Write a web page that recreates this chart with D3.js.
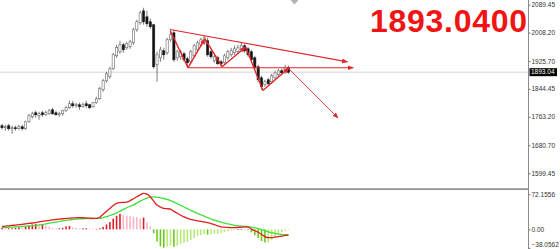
<!DOCTYPE html>
<html>
<head>
<meta charset="utf-8">
<title>Gold daily with MACD</title>
<script src="https://d3js.org/d3.v7.min.js"></script>
<style>
  body { margin: 0; background: #fff; }
  text { font-family: "Liberation Sans", Arial, sans-serif; }
</style>
</head>
<body>
<script>
var W = 560, H = 249

// candles (one per bar, oldest first)
var opens  = [1737.4,1731.6,1737.4,1728.7,1731.6,1728.7,1734.5,1728.7,1749.0,1763.5,
              1775.1,1766.4,1775.1,1769.3,1772.2,1783.8,1775.1,1769.3,1772.2,1780.9,
              1789.7,1801.3,1795.5,1798.4,1792.6,1801.3,1798.4,1792.6,1804.2,1815.8,
              1842.0,1868.1,1879.7,1903.0,1940.7,1952.4,1972.7,1964.0,1966.9,1978.5,
              2016.3,2036.6,2071.4,2054.0,2039.5,2030.8,1914.6,1934.9,1955.3,1949.4,
              1987.2,2007.5,1934.9,1937.8,1946.5,1932.0,1923.3,1940.7,1958.2,1972.7,
              1978.5,1984.3,1952.4,1926.2,1934.9,1923.3,1920.4,1934.9,1943.6,1949.4,
              1952.4,1958.2,1969.8,1961.1,1952.4,1934.9,1908.8,1876.8,1856.5,1871.0,
              1865.2,1876.8,1885.5,1897.1,1894.2,1905.9]
var highs  = [1743.2,1740.3,1743.2,1737.4,1737.4,1740.3,1740.3,1751.9,1772.2,1778.0,
              1781.0,1778.0,1781.0,1781.0,1786.8,1789.7,1781.0,1778.0,1783.8,1795.5,
              1810.0,1810.0,1804.2,1804.2,1804.2,1810.0,1801.3,1807.1,1821.6,1850.7,
              1873.9,1894.2,1908.8,1949.4,1972.7,1984.3,1978.5,1981.4,1987.2,2022.1,
              2045.3,2071.4,2080.2,2071.4,2048.2,2033.7,1952.4,1966.9,1964.0,1993.0,
              2019.2,2016.3,1958.2,1958.2,1952.4,1937.8,1958.2,1975.6,1984.3,1993.0,
              1998.8,1993.0,1958.2,1943.6,1940.7,1929.1,1946.5,1958.2,1964.0,1969.8,
              1972.7,1978.5,1975.6,1966.9,1958.2,1940.7,1914.6,1882.6,1871.0,1876.8,
              1888.4,1897.1,1902.9,1902.9,1914.6,1911.7]
var lows   = [1725.8,1722.9,1722.9,1714.1,1722.9,1725.8,1722.9,1725.8,1746.1,1757.7,
              1760.6,1754.8,1763.5,1766.4,1769.3,1769.3,1766.4,1763.5,1766.4,1778.0,
              1786.8,1789.7,1789.7,1783.8,1789.7,1789.7,1786.8,1789.7,1801.3,1813.0,
              1836.2,1862.3,1873.9,1900.0,1934.9,1946.5,1949.4,1958.2,1961.1,1972.7,
              2010.4,2030.8,2030.8,2025.0,2019.2,1903.0,1865.2,1923.3,1929.1,1943.6,
              1981.4,1923.3,1926.2,1929.1,1923.3,1905.9,1917.5,1934.9,1952.4,1966.9,
              1972.7,1937.8,1932.0,1920.4,1914.6,1908.8,1917.5,1929.1,1937.8,1943.6,
              1946.5,1952.4,1949.4,1937.8,1923.3,1900.0,1865.2,1842.0,1850.7,1853.6,
              1859.4,1871.0,1879.7,1885.5,1888.4,1888.4]
var closes = [1731.6,1734.5,1728.7,1731.6,1728.7,1734.5,1728.7,1749.0,1766.4,1772.2,
              1769.3,1772.2,1769.3,1775.1,1780.9,1772.2,1769.3,1772.2,1780.9,1789.7,
              1801.3,1795.5,1798.4,1792.6,1798.4,1795.5,1789.7,1804.2,1815.8,1844.9,
              1868.1,1888.4,1903.0,1943.6,1964.9,1972.7,1958.2,1975.6,1981.4,2016.3,
              2039.5,2065.6,2039.5,2033.7,2025.0,1908.8,1943.6,1958.2,1943.6,1987.2,
              2001.7,1929.1,1952.4,1952.4,1929.1,1920.4,1952.4,1969.8,1978.5,1987.2,
              1993.0,1943.6,1937.8,1937.8,1917.5,1917.5,1940.7,1952.4,1955.3,1961.1,
              1964.0,1969.8,1955.3,1943.6,1929.1,1905.9,1871.0,1850.7,1865.2,1859.4,
              1882.6,1891.3,1897.1,1891.3,1905.9,1893.04]

// MACD: DIF (red), DEA (green), histogram
var dif  = [5.8,6.5,7.2,8,8.8,9.6,10.4,11.3,12.2,13,
            14,15.2,16.3,17.4,18.6,19.5,20.2,21,21.8,22.5,
            23,23.4,23.7,24,23.8,23.4,23,22.6,22.7,25,
            31,37,43,49,53.5,55,55.5,56,59,63,
            67,71,74,72.5,67,58,50,46,43,42.5,
            41.5,37,33,29,25.5,23,20.5,19,17.5,16.4,
            15.3,14,11.8,9.6,7,5.2,4.5,4,3.4,3.4,
            4,4.5,5,4.5,0.5,-3,-6,-10,-15,-17.3,
            -17,-16,-15,-13.8,-12.5,-11.8]
var dea  = [3.3,3.7,4.1,4.6,5,5.4,5.8,6.3,6.8,7.3,
            8,9,10,11.3,12.6,13.8,15,16.2,17.4,18.5,
            19.5,20.3,21,21.5,21.8,22,22.2,22.3,22.5,22.7,
            24,26,28.5,31,34,37.5,41,44.5,47.5,50.5,
            54,58,61.5,64.5,66.5,67,66,65,63.5,61.5,
            59,56,53,49.5,46,42.5,39,36,33,30,
            27,24,21.5,19,17,15,13,11,9.5,8.3,
            7.3,6.5,6,5.5,4.5,3,1.5,-0.5,-3,-5,
            -7,-8.5,-9.8,-10.6,-11.2,-11.6]
var hist = [3,2,2,2,3,4,3,5,8,10,
            11,9,10,8,6,3,2,2,3,6,
            7,4,3,2,2,2,1.5,1,1,2,
            5,10,15,22,28,32,30,28,27,26,
            25,22,24,14,6,-8,-25,-35,-38,-36,
            -33,-36,-34,-30,-28,-26,-22,-18,-14,-12,
            -10,-11,-10,-9,-9,-8,-6,-4,-2,-1,
            0.5,1,0.5,-2,-6,-12,-18,-24,-27,-27,
            -22,-16,-10,-6,-3,-1]

var priceTicks = [2089.45, 2008.20, 1925.70, 1844.45, 1763.20, 1680.70, 1599.45]
var macdTicks = [72.1556, 0, -38.0562]
var lastPrice = 1893.04
var bigLabel = "1893.0400"

// hand drawn analysis lines: [bar index, price]
var zigzag = [[50, 2012], [55.2, 1906], [60.2, 1990], [65.3, 1909], [72.3, 1966], [77.4, 1840], [85.1, 1905]]
var trendTop = [[49.9, 2017], [102.5, 1923]]
var support = [[55.2, 1906], [104.2, 1906]]
var downArrow = [[85.1, 1903], [99.7, 1760]]

var svg = d3.select("body").append("svg")
  .attr("width", W)
  .attr("height", H)

var axisX = 528
var x = d3.scaleLinear().domain([0, 85]).range([2, 288.5])
var y = d3.scaleLinear().domain([1599.45, 2089.45]).range([173.2, 4.6])
var ym = d3.scaleLinear().domain([-38.0562, 72.1556]).range([247.8, 194.3])

var red = "#e3262b"
svg.append("defs").append("marker")
  .attr("id", "arr")
  .attr("viewBox", "0 0 10 10")
  .attr("refX", 9).attr("refY", 5)
  .attr("markerWidth", 6).attr("markerHeight", 6)
  .attr("markerUnits", "userSpaceOnUse")
  .attr("orient", "auto")
  .append("path").attr("d", "M0,1L10,5L0,9Z").attr("fill", red)

// current price line
svg.append("line")
  .attr("x1", 0).attr("x2", axisX)
  .attr("y1", y(lastPrice)).attr("y2", y(lastPrice))
  .attr("stroke", "#d4d4d4").attr("stroke-width", 1)

// candles
var bars = d3.range(closes.length)
var cg = svg.append("g")
cg.selectAll("line.wick").data(bars).enter().append("line")
  .attr("class", "wick")
  .attr("x1", i => x(i)).attr("x2", i => x(i))
  .attr("y1", i => y(highs[i])).attr("y2", i => y(lows[i]))
  .attr("stroke", "#444").attr("stroke-width", 0.7)
cg.selectAll("rect").data(bars).enter().append("rect")
  .attr("x", i => x(i) - 1.1)
  .attr("width", 2.2)
  .attr("y", i => y(Math.max(opens[i], closes[i])))
  .attr("height", i => Math.max(0.8, Math.abs(y(opens[i]) - y(closes[i]))))
  .attr("fill", i => closes[i] >= opens[i] ? "#fff" : "#111")
  .attr("stroke", i => closes[i] >= opens[i] ? "#666" : "#222")
  .attr("stroke-width", 0.6)

// analysis lines
var pl = d3.line().x(d => x(d[0])).y(d => y(d[1]))
var ag = svg.append("g").attr("fill", "none").attr("stroke", red).attr("stroke-width", 1.1)
ag.append("path").attr("d", pl(trendTop)).attr("marker-end", "url(#arr)")
ag.append("path").attr("d", pl(support)).attr("marker-end", "url(#arr)")
ag.append("path").attr("d", pl(downArrow)).attr("marker-end", "url(#arr)").attr("stroke-width", 0.9)
for (var k = 0; k < zigzag.length - 1; k++) {
  var seg = ag.append("path").attr("d", pl([zigzag[k], zigzag[k + 1]])).attr("stroke-width", 1.4)
  if (zigzag[k + 1][1] > zigzag[k][1]) seg.attr("marker-end", "url(#arr)")
}

// chart shift marker
svg.append("path")
  .attr("d", "M" + (x(85) + 2) + ",0h8l-4,4.5z")
  .attr("fill", "#b4b4b4")

// big price label
svg.append("text")
  .attr("x", 370).attr("y", 32.3)
  .attr("textLength", 157).attr("lengthAdjust", "spacing")
  .attr("font-size", 32).attr("font-weight", "bold")
  .attr("fill", "#f01414")
  .text(bigLabel)

// MACD histogram
var mg = svg.append("g")
mg.selectAll("rect").data(bars).enter().append("rect")
  .attr("x", i => x(i) - 0.8)
  .attr("width", 1.6)
  .attr("y", i => Math.min(ym(0), ym(hist[i])))
  .attr("height", i => Math.max(0.6, Math.abs(ym(hist[i]) - ym(0))))
  .attr("fill", function(i) {
    var up = i == 0 || hist[i] >= hist[i - 1]
    if (hist[i] >= 0) return up ? "#dc1e28" : "#f7b6c2"
    return up ? "#b8ea78" : "#6cc81a"
  })

var ml = d3.line().x((d, i) => x(i)).y(d => ym(d)).curve(d3.curveMonotoneX)
svg.append("path").attr("d", ml(dea)).attr("fill", "none").attr("stroke", "#3ee03a").attr("stroke-width", 1.3)
svg.append("path").attr("d", ml(dif)).attr("fill", "none").attr("stroke", "#e41e1e").attr("stroke-width", 1.3)

// panel separator and right axis line
svg.append("rect").attr("x", 0).attr("y", 188.3).attr("width", axisX).attr("height", 1.6).attr("fill", "#8a8a8a")
svg.append("line")
  .attr("x1", axisX + 0.5).attr("x2", axisX + 0.5).attr("y1", 0).attr("y2", H)
  .attr("stroke", "#8a8a8a").attr("stroke-width", 1)

var pAxis = svg.append("g")
  .attr("transform", "translate(" + (axisX + 0.5) + ",0)")
  .call(d3.axisRight(y).tickValues(priceTicks).tickSize(2).tickPadding(1).tickFormat(d3.format(".2f")))
var mAxis = svg.append("g")
  .attr("transform", "translate(" + (axisX + 0.5) + ",0)")
  .call(d3.axisRight(ym).tickValues(macdTicks).tickSize(2).tickPadding(1)
    .tickFormat(d => d == 0 ? "0.00" : d3.format(".4f")(d)))
mAxis.selectAll(".tick").filter(d => d < 0).select("text").attr("dy", "-0.15em")
svg.selectAll(".domain").remove()
svg.selectAll(".tick line").attr("stroke", "#777")
svg.selectAll(".tick text").attr("font-size", 6.5).attr("fill", "#333")
  .attr("font-family", "Liberation Sans, Arial, sans-serif")

// last price box
svg.append("rect")
  .attr("x", axisX + 1.5).attr("y", y(lastPrice) - 4)
  .attr("width", 27.5).attr("height", 8)
  .attr("fill", "#000")
svg.append("text")
  .attr("x", axisX + 3).attr("y", y(lastPrice))
  .attr("dy", "0.34em")
  .attr("font-size", 6.5).attr("fill", "#fff")
  .text(d3.format(".2f")(lastPrice))
</script>
</body>
</html>
